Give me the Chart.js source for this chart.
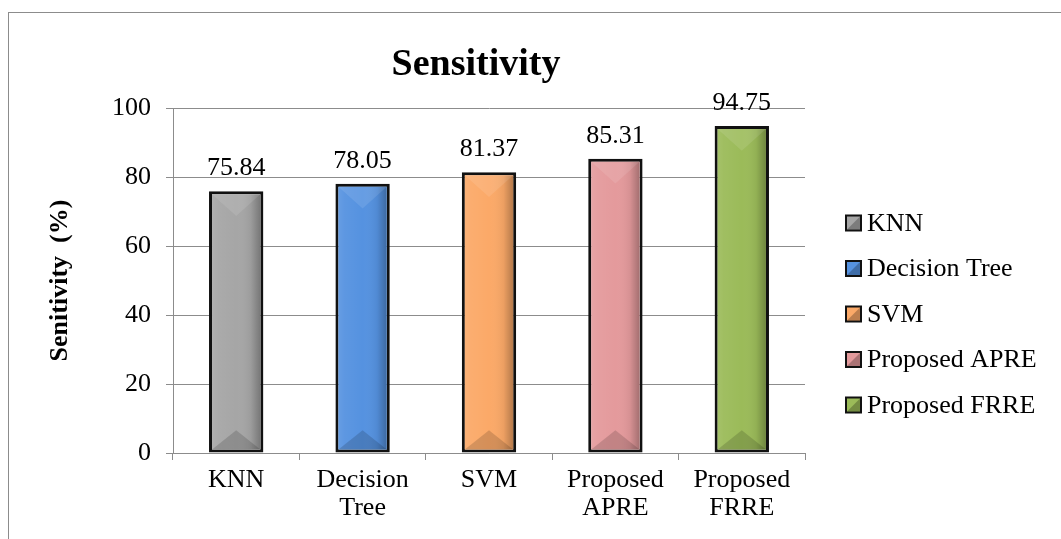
<!DOCTYPE html>
<html>
<head>
<meta charset="utf-8">
<script src="https://cdn.jsdelivr.net/npm/chart.js@4.4.1/dist/chart.umd.min.js"></script>
<style>
  html, body { margin: 0; padding: 0; background: #ffffff; overflow: hidden; }
  #wrap { position: relative; width: 1061px; height: 539px; }
  #frame { position: absolute; left: 8px; top: 12px; width: 1100px; height: 600px;
           border: 1.5px solid #8c8c8c; box-sizing: border-box; }
  #c { position: absolute; left: 0; top: 0; }
</style>
</head>
<body>
<div id="wrap">
  <div id="frame"></div>
  <canvas id="c" width="1061" height="539"></canvas>
</div>
<script>
// Methods compared and their sensitivity scores (%)
const categories = ['KNN', 'Decision Tree', 'SVM', 'Proposed APRE', 'Proposed FRRE'];
const axisLabels = [['KNN'], ['Decision', 'Tree'], ['SVM'], ['Proposed', 'APRE'], ['Proposed', 'FRRE']];
const sensitivity = [75.84, 78.05, 81.37, 85.31, 94.75];
const barColors = ['#a6a6a6', '#5592e0', '#fba968', '#e49a9c', '#9bbb59'];
const yTicks = [0, 20, 40, 60, 80, 100];

const SERIF = "'Liberation Serif', 'Times New Roman', serif";

// Bevelled shading drawn over each bar, inside its black outline
const bevelPlugin = {
  id: 'bevel',
  afterDatasetsDraw(chart) {
    const ctx = chart.ctx;
    const meta = chart.getDatasetMeta(0);
    meta.data.forEach((bar) => {
      const p = bar.getProps(['x', 'y', 'base', 'width'], true);
      const bw = 3;
      const l = p.x - p.width / 2 + bw, r = p.x + p.width / 2 - bw;
      const t = Math.min(p.y, p.base) + bw, b = Math.max(p.y, p.base) - bw;
      const w = r - l;
      ctx.save();
      ctx.beginPath(); ctx.rect(l, t, w, b - t); ctx.clip();
      const g = ctx.createLinearGradient(l, 0, r, 0);
      g.addColorStop(0, 'rgba(255,255,255,0.10)');
      g.addColorStop(0.12, 'rgba(255,255,255,0.05)');
      g.addColorStop(0.5, 'rgba(255,255,255,0.0)');
      g.addColorStop(0.8, 'rgba(0,0,0,0.06)');
      g.addColorStop(1, 'rgba(0,0,0,0.28)');
      ctx.fillStyle = g;
      ctx.fillRect(l, t, w, b - t);
      const d = w / 2;
      // top facet
      ctx.beginPath();
      ctx.moveTo(l, t); ctx.lineTo(r, t); ctx.lineTo(p.x, t + d * 0.9); ctx.closePath();
      ctx.fillStyle = 'rgba(255,255,255,0.10)';
      ctx.fill();
      // bottom facet
      ctx.beginPath();
      ctx.moveTo(l, b); ctx.lineTo(r, b); ctx.lineTo(p.x, b - d * 0.8); ctx.closePath();
      ctx.fillStyle = 'rgba(0,0,0,0.15)';
      ctx.fill();
      ctx.restore();
    });
  }
};

// Value printed above each bar
const valueLabelPlugin = {
  id: 'valueLabels',
  afterDatasetsDraw(chart) {
    const ctx = chart.ctx;
    const meta = chart.getDatasetMeta(0);
    const data = chart.data.datasets[0].data;
    ctx.save();
    ctx.font = '26px ' + SERIF;
    ctx.fillStyle = '#000';
    ctx.textAlign = 'center';
    ctx.textBaseline = 'alphabetic';
    meta.data.forEach((bar, i) => {
      const p = bar.getProps(['x', 'y'], true);
      ctx.fillText(data[i].toFixed(2), p.x, p.y - 16);
    });
    ctx.restore();
  }
};

// Title and category legend
const decorPlugin = {
  id: 'decor',
  afterDraw(chart) {
    const ctx = chart.ctx;
    ctx.save();
    ctx.fillStyle = '#000';
    ctx.font = 'bold 38px ' + SERIF;
    ctx.textAlign = 'center';
    ctx.textBaseline = 'alphabetic';
    ctx.fillText('Sensitivity', 476, 75);

    ctx.font = '26px ' + SERIF;
    ctx.textAlign = 'left';
    ctx.textBaseline = 'middle';
    const bx = 845, size = 17, y0 = 223, step = 45.5;
    categories.forEach((name, i) => {
      const cy = y0 + i * step;
      const top = cy - size / 2;
      ctx.fillStyle = '#111';
      ctx.fillRect(bx, top, size, size);
      ctx.fillStyle = barColors[i];
      ctx.fillRect(bx + 2, top + 2, size - 4, size - 4);
      ctx.beginPath();
      ctx.moveTo(bx + 2, top + size - 2);
      ctx.lineTo(bx + size - 2, top + 2);
      ctx.lineTo(bx + size - 2, top + size - 2);
      ctx.closePath();
      ctx.fillStyle = 'rgba(0,0,0,0.25)';
      ctx.fill();
      ctx.fillStyle = '#000';
      ctx.fillText(name, bx + 22, cy + 1);
    });
    ctx.restore();
  }
};

new Chart(document.getElementById('c'), {
  type: 'bar',
  data: {
    labels: axisLabels,
    datasets: [{
      label: 'Sensitivity',
      data: sensitivity,
      backgroundColor: barColors,
      borderColor: '#111111',
      borderWidth: 3,
      borderSkipped: false,
      categoryPercentage: 1.0,
      barPercentage: 0.43
    }]
  },
  options: {
    responsive: false,
    devicePixelRatio: 1,
    animation: false,
    layout: { padding: { top: 108, right: 256, bottom: 0, left: 0 } },
    plugins: {
      legend: { display: false },
      title: { display: false },
      tooltip: { enabled: false }
    },
    scales: {
      y: {
        min: 0,
        max: 100,
        afterBuildTicks(scale) { scale.ticks = yTicks.map(v => ({ value: v })); },
        afterFit(scale) { scale.width = 173; },
        ticks: {
          font: { family: SERIF, size: 26 },
          color: '#000',
          padding: 15
        },
        grid: { color: '#8c8c8c', lineWidth: 1, tickLength: 7 },
        border: { color: '#8c8c8c', width: 1 },
        title: {
          display: true,
          text: 'Senitivity  (%)',
          color: '#000',
          font: { family: SERIF, size: 26, weight: 'bold' },
          padding: { top: 45, bottom: 0 }
        }
      },
      x: {
        afterFit(scale) { scale.height = 86; },
        ticks: {
          font: { family: SERIF, size: 26, lineHeight: 1.05 },
          color: '#000',
          padding: 7,
          maxRotation: 0,
          autoSkip: false
        },
        grid: { offset: true, drawOnChartArea: false, color: '#8c8c8c', tickLength: 7 },
        border: { color: '#8c8c8c', width: 1 }
      }
    }
  },
  plugins: [bevelPlugin, valueLabelPlugin, decorPlugin]
});
</script>
</body>
</html>
